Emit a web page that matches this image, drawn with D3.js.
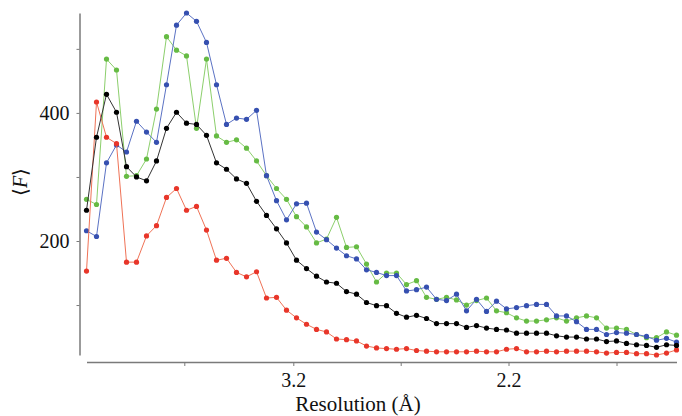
<!DOCTYPE html>
<html>
<head>
<meta charset="utf-8">
<script src="https://cdn.jsdelivr.net/npm/d3@7"></script>
<style>
  html, body { margin: 0; padding: 0; background: #fff; }
  svg { display: block; }
  svg text { font-family: 'Times New Roman', Times, 'Liberation Serif', 'DejaVu Serif', 'Noto Serif', 'Noto Serif CJK SC', serif; fill: #111; }
</style>
</head>
<body>
<svg id="chart" width="682" height="416"></svg>
<script>
// ---- data (bins along resolution shells) ----
const blackSeries = [248,362,429,401,316,300,294,325,376,401,384,382,365,322,312,297,290,262,240,219,
  197,170,157,145,136,134,121,117,104,99,99,87,81,84,79,71,71,71,65,68,
  64,62,61,56,56,56,56,52,50,50,47,47,43,44,40,38,37,34,38,37];
const redSeries = [153,417,362,352,167,167,208,224,268,282,248,254,217,170,173,151,144,152,111,112,
  92,80,70,62,58,47,46,44,36,33,32,31,32,29,28,27,27,27,27,28,
  27,27,31,32,27,27,28,27,28,28,28,27,25,26,26,24,24,22,25,30];
const blueSeries = [216,207,322,350,339,387,370,354,444,537,556,543,510,444,382,392,390,404,302,263,
  233,258,259,214,202,189,177,172,155,151,146,146,122,124,128,109,107,117,91,109,
  90,106,94,96,99,101,101,83,83,74,62,62,54,57,56,54,51,45,48,42];
const greenSeries = [265,257,484,467,301,302,328,406,519,498,489,376,484,364,354,358,345,325,302,282,
  265,238,222,197,203,237,190,191,164,136,150,150,132,138,112,109,112,108,100,107,
  111,91,88,80,75,75,77,80,75,80,83,80,64,64,62,54,49,49,58,53];

const xTickPositions = [9.78, 20.68, 31.42, 42.2, 53.0];   // in bin units
const xTickLabels = ["", "3.2", "", "2.2", ""];
const yTickValues = [100, 200, 300, 400, 500];
const yTickLabels = ["", "200", "", "400", ""];

const seriesList = [
  { name: "green", values: greenSeries, dot: "#66bb44", line: "#8ccf6c" },
  { name: "blue",  values: blueSeries,  dot: "#3650b0", line: "#5b72c4" },
  { name: "red",   values: redSeries,   dot: "#e8362a", line: "#ef7256" },
  { name: "black", values: blackSeries, dot: "#000000", line: "#333333" }
];

// ---- scales ----
const svg = d3.select("#chart");
const n = blackSeries.length;
const x = d3.scaleLinear().domain([0, n - 1]).range([86.5, 676.5]);
const y = d3.scaleLinear().domain([22, 556]).range([355, 13]);

// ---- axes ----
const axisColor = "#7a7a7a";
const xAxisY = 362;
const gx = svg.append("g").attr("transform", `translate(0,${xAxisY})`)
  .call(d3.axisBottom(x).tickValues(xTickPositions)
    .tickFormat((d, i) => xTickLabels[i]).tickSize(4).tickSizeOuter(0).tickPadding(7));
gx.attr("font-family", null).attr("font-size", null);
gx.select(".domain").attr("stroke", axisColor).attr("stroke-width", 1.5);
gx.selectAll(".tick line").attr("stroke", axisColor).attr("stroke-width", 1);
gx.selectAll(".tick text").style("font-size", "20px").attr("fill", "#111");

const yAxisX = 79.5;
const gy = svg.append("g").attr("transform", `translate(${yAxisX},0)`)
  .call(d3.axisLeft(y).tickValues(yTickValues)
    .tickFormat((d, i) => yTickLabels[i]).tickSize(3).tickSizeOuter(0).tickPadding(7));
gy.attr("font-family", null).attr("font-size", null);
gy.select(".domain").attr("stroke", axisColor).attr("stroke-width", 1.5);
gy.selectAll(".tick line").attr("stroke", axisColor).attr("stroke-width", 1);
gy.selectAll(".tick text").style("font-size", "20px").attr("fill", "#111");

// ---- axis titles ----
svg.append("text")
  .attr("x", 358).attr("y", 411)
  .attr("text-anchor", "middle")
  .style("font-size", "21px")
  .text("Resolution (Å)");

const yl = svg.append("text")
  .attr("transform", "translate(27,182) rotate(-90)")
  .attr("text-anchor", "middle")
  .style("font-size", "20px");
yl.append("tspan").text("\u27E8");
yl.append("tspan").style("font-style", "italic").text("F");
yl.append("tspan").text("\u27E9");

// ---- series ----
const line = d3.line().x((d, i) => x(i)).y(d => y(d));
seriesList.forEach(s => {
  const g = svg.append("g").attr("class", "series-" + s.name);
  g.append("path")
    .datum(s.values)
    .attr("d", line)
    .attr("fill", "none")
    .attr("stroke", s.line)
    .attr("stroke-width", 1);
  g.selectAll("circle")
    .data(s.values)
    .join("circle")
    .attr("cx", (d, i) => x(i))
    .attr("cy", d => y(d))
    .attr("r", 2.6)
    .attr("fill", s.dot);
});
</script>
</body>
</html>
